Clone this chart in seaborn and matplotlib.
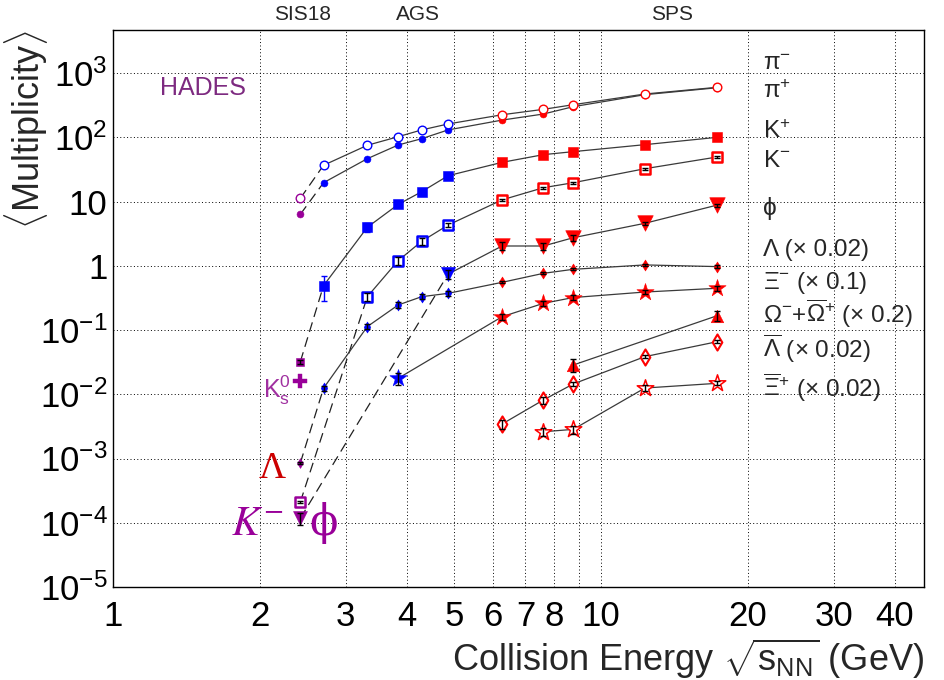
import numpy as np
import pandas as pd
import matplotlib
matplotlib.use("Agg")
import matplotlib.pyplot as plt
import seaborn as sns
from matplotlib.ticker import FixedLocator, FixedFormatter, NullFormatter, LogLocator, NullLocator

sns.set_style("white")
plt.rcParams["font.family"] = ["Liberation Sans", "DejaVu Sans"]
plt.rcParams["mathtext.fontset"] = "custom"
plt.rcParams["mathtext.rm"] = "Liberation Sans"
plt.rcParams["mathtext.it"] = "Liberation Sans:italic"
plt.rcParams["mathtext.bf"] = "Liberation Sans:bold"
plt.rcParams["mathtext.sf"] = "Liberation Sans"

# ---------------- data: mean multiplicities vs sqrt(s_NN) ----------------
E_HADES = [2.42]
E_AGS = [2.70, 3.32, 3.84, 4.29, 4.86]
E_SPS = [6.27, 7.62, 8.77, 12.3, 17.3]

pim_hades = [6.3]
pim_ags = [19.6, 46.4, 75.7, 95.0, 130.0]
pim_sps = [185.0, 230.0, 299.0, 460.0, 590.0]

pip_hades = [11.2]
pip_ags = [36.6, 75.0, 102.0, 130.0, 161.0]
pip_sps = [224.0, 272.0, 321.0, 471.0, 599.0]

kp_hades = [0.032]
kp_hades_err = [0.002]
kp_ags = [0.49, 3.97, 9.0, 14.2, 25.2]
kp_ags_err = [0.21, 0.6, 0.9, 0.9, 1.5]
kp_sps = [40.7, 53.6, 59.7, 76.7, 99.8]

km_hades = [2.1e-4]
km_hades_err = [0.1e-4]
E_AGS_km = [3.32, 3.84, 4.29, 4.86]
km_ags = [0.33, 1.2, 2.4, 4.3]
km_ags_err = [0.05, 0.16, 0.3, 0.25]
km_sps = [10.6, 16.4, 19.6, 32.4, 49.3]
km_sps_err = [0.4, 0.6, 0.7, 1.1, 2.0]

phi_hades = [1.17e-4]
phi_hades_err = [0.25e-4]
E_AGS_phi = [4.86]
phi_ags = [0.74]
phi_ags_err = [0.12]
phi_sps = [2.03, 2.03, 2.73, 4.58, 8.8]
phi_sps_err = [0.3, 0.25, 0.3, 0.3, 0.5]

lam_hades = [8.5e-4]
lam_hades_err = [0.3e-4]
lam_ags = [0.0124, 0.113, 0.245, 0.330, 0.372]
lam_ags_err = [0.0012, 0.01, 0.025, 0.03, 0.035]
lam_sps = [0.552, 0.762, 0.88, 1.03, 0.97]
lam_sps_err = [0.02, 0.03, 0.03, 0.04, 0.04]

E_AGS_xi = [3.84]
xi_ags = [0.0177]
xi_ags_err = [0.004]
xi_sps = [0.161, 0.26, 0.32, 0.39, 0.446]
xi_sps_err = [0.016, 0.025, 0.03, 0.03, 0.04]

E_SPS_omega = [8.77, 17.3]
omega_sps = [0.0285, 0.167]
omega_sps_err = [0.0065, 0.028]

alam_sps = [0.00344, 0.00815, 0.01445, 0.0385, 0.0658]
alam_sps_err = [0.0006, 0.001, 0.0012, 0.002, 0.003]

E_SPS_axi = [7.62, 8.77, 12.3, 17.3]
axi_sps = [0.00261, 0.00284, 0.0125, 0.0148]
axi_sps_err = [0.0004, 0.0004, 0.0013, 0.0010]

k0s_hades = [0.0163]

# ---------------- long-form table ----------------
rows = []


def add(species, facility, energies, values, errors=None):
    if errors is None:
        errors = [0.0] * len(values)
    for e, v, s in zip(energies, values, errors):
        rows.append(dict(species=species, facility=facility, energy=e, value=v, err=s))


add("pim", "HADES", E_HADES, pim_hades)
add("pim", "AGS", E_AGS, pim_ags)
add("pim", "SPS", E_SPS, pim_sps)
add("pip", "HADES", E_HADES, pip_hades)
add("pip", "AGS", E_AGS, pip_ags)
add("pip", "SPS", E_SPS, pip_sps)
add("kp", "HADES", E_HADES, kp_hades, kp_hades_err)
add("kp", "AGS", E_AGS, kp_ags, kp_ags_err)
add("kp", "SPS", E_SPS, kp_sps)
add("km", "HADES", E_HADES, km_hades, km_hades_err)
add("km", "AGS", E_AGS_km, km_ags, km_ags_err)
add("km", "SPS", E_SPS, km_sps, km_sps_err)
add("phi", "HADES", E_HADES, phi_hades, phi_hades_err)
add("phi", "AGS", E_AGS_phi, phi_ags, phi_ags_err)
add("phi", "SPS", E_SPS, phi_sps, phi_sps_err)
add("lam", "HADES", E_HADES, lam_hades, lam_hades_err)
add("lam", "AGS", E_AGS, lam_ags, lam_ags_err)
add("lam", "SPS", E_SPS, lam_sps, lam_sps_err)
add("xi", "AGS", E_AGS_xi, xi_ags, xi_ags_err)
add("xi", "SPS", E_SPS, xi_sps, xi_sps_err)
add("omega", "SPS", E_SPS_omega, omega_sps, omega_sps_err)
add("alam", "SPS", E_SPS, alam_sps, alam_sps_err)
add("axi", "SPS", E_SPS_axi, axi_sps, axi_sps_err)
add("k0s", "HADES", E_HADES, k0s_hades)

df = pd.DataFrame(rows)

FAC_COLOR = {"HADES": "#990099", "AGS": "#0000ff", "SPS": "#ff0000"}
LINE_COLOR = "#3a3a3a"

# marker, size (pt), open?, edge width, HADES size
STYLE = {
    "pim": ("o", 5.0, False, 0.4, 5.0),
    "pip": ("o", 6.2, True, 1.0, 6.2),
    "kp": ("s", 7.8, False, 0.4, 6.0),
    "km": ("s", 7.2, True, 1.8, 7.0),
    "phi": ("v", 11.2, False, 0.4, 10.0),
    "lam": ("d", 5.6, False, 0.4, 5.0),
    "xi": ("*", 13.0, False, 0.4, 13.0),
    "omega": ("^", 9.0, False, 0.4, 9.0),
    "alam": ("d", 8.2, True, 1.5, 8.2),
    "axi": ("*", 12.5, True, 1.1, 12.5),
    "k0s": ("P", 9.4, False, 0.3, 9.4),
}
AGS_SIZE = {"phi": 10.2, "km": 7.2}

# ---------------- figure ----------------
W, H = 945, 680
fig = plt.figure(figsize=(W / 100, H / 100), dpi=100)
L, R, T, B = 113, 924, 30, 587
ax = fig.add_axes([L / W, 1 - B / H, (R - L) / W, (B - T) / H])
ax.set_xscale("log")
ax.set_yscale("log")
ax.set_xlim(1, 45.9)
ax.set_ylim(1e-5, 4670)

# connecting lines: solid through AGS/SPS, dashed from the HADES point
for sp in ["pim", "pip", "kp", "km", "phi", "lam", "xi", "omega", "alam", "axi"]:
    sub = df[df.species == sp].sort_values("energy")
    main = sub[sub.facility != "HADES"]
    if len(main) > 1:
        sns.lineplot(data=main, x="energy", y="value", estimator=None, sort=True,
                     color=LINE_COLOR, lw=0.9, ax=ax, zorder=2, legend=False)
    had = sub[sub.facility == "HADES"]
    if len(had) and len(main):
        link = pd.concat([had, main.iloc[:1]])
        sns.lineplot(data=link, x="energy", y="value", estimator=None, sort=True,
                     color="#202020", lw=0.9, linestyle=(0, (8, 4.5)), ax=ax,
                     zorder=2, legend=False)

# markers and error bars
for (sp, fac), g in df.groupby(["species", "facility"], sort=False):
    marker, ms, is_open, elw, ms_h = STYLE[sp]
    if fac == "HADES":
        ms = ms_h
    elif fac == "AGS":
        ms = AGS_SIZE.get(sp, ms)
    col = FAC_COLOR[fac]
    face = "white" if is_open else col
    sns.scatterplot(data=g, x="energy", y="value", marker=marker, s=ms ** 2,
                    color=face, edgecolor=col, linewidth=elw, ax=ax, zorder=3,
                    legend=False)
    if g.err.sum() > 0:
        ecol = col if (sp == "kp" and fac == "AGS") else "black"
        ax.errorbar(g.energy, g.value, yerr=g.err, fmt="none", ecolor=ecol,
                    elinewidth=1.0, capsize=2.2, capthick=1.0, zorder=4)

# ---------------- axes styling ----------------
xt = [1, 2, 3, 4, 5, 6, 7, 8, 9, 10, 20, 30, 40]
xl = ["1", "2", "3", "4", "5", "6", "7", "8", "", "10", "20", "30", "40"]
ax.xaxis.set_major_locator(FixedLocator(xt))
ax.xaxis.set_major_formatter(FixedFormatter(xl))
ax.xaxis.set_minor_locator(NullLocator())

yt = [1e-5, 1e-4, 1e-3, 1e-2, 1e-1, 1, 10, 1e2, 1e3]
yl = ["$10^{-5}$", "$10^{-4}$", "$10^{-3}$", "$10^{-2}$", "$10^{-1}$",
      "1", "10", "$10^{2}$", "$10^{3}$"]
ax.yaxis.set_major_locator(FixedLocator(yt))
ax.yaxis.set_major_formatter(FixedFormatter(yl))
ax.yaxis.set_minor_locator(LogLocator(base=10, subs=np.arange(2, 10), numticks=30))
ax.yaxis.set_minor_formatter(NullFormatter())

ax.tick_params(axis="both", which="both", direction="in", top=False, right=False,
               color="black", labelcolor="black")
ax.tick_params(axis="y", which="major", length=17, width=0.8, labelsize=25, pad=4)
ax.tick_params(axis="y", which="minor", length=8.5, width=0.6)
ax.tick_params(axis="x", which="major", length=14, width=0.8, labelsize=25, pad=9)

ax.grid(True, which="major", color="black", lw=0.7, ls=(0, (1, 2.5)), zorder=0.5)
for s in ax.spines.values():
    s.set_color("black")
    s.set_linewidth(1.0)

ax.set_xlabel(r"Collision Energy $\sqrt{\mathrm{s}_{\mathrm{NN}}}$ (GeV)", fontsize=26, loc="right")
ax.xaxis.set_label_coords(1.0, -0.09)
ax.set_ylabel(r"$\langle$Multiplicity$\rangle$", fontsize=26, loc="top")
ax.yaxis.set_label_coords(-0.078, 1.0)


def px(x, y):
    return x / W, 1 - y / H


# facility names along the top
for name, xc in [("SIS18", 303), ("AGS", 418), ("SPS", 672)]:
    fig.text(*px(xc, 15), name, fontsize=15, ha="center", va="center")

# species labels on the right
right_labels = [
    ("π$^{-}$", 70), ("π$^{+}$", 98), ("K$^{+}$", 138), ("K$^{-}$", 167),
    ("ϕ", 215), ("Λ (× 0.02)", 256), ("Ξ$^{-}$ (× 0.1)", 289),
    (r"Ω$^{-}$+$\overline{\Omega}^{+}$ (× 0.2)", 323),
    (r"$\overline{\Lambda}$ (× 0.02)", 358), (r"$\overline{\Xi}^{+}$ (× 0.02)", 397),
]
for txt, yb in right_labels:
    fig.text(*px(763, yb), txt, fontsize=17.5, ha="left", va="baseline")

# HADES labels on the left
fig.text(*px(203, 88), "HADES", fontsize=18, color="#7d2a80", ha="center", va="center")
fig.text(*px(263, 398), r"K$_{\mathrm{s}}^{0}$", fontsize=18, color="#a030a0",
         ha="left", va="baseline")
fig.text(*px(259, 478), "Λ", fontsize=27, color="#cc0000", ha="left", va="baseline",
         family=["Liberation Serif", "DejaVu Serif"])
fig.text(*px(231, 535), "$K^{-}$", fontsize=30, color="#990099", ha="left", va="baseline",
         math_fontfamily="stix")
fig.text(*px(309, 535), "ϕ", fontsize=30, color="#990099", ha="left", va="baseline",
         family=["DejaVu Serif"])

fig.savefig("out.png", dpi=100, facecolor="white")
